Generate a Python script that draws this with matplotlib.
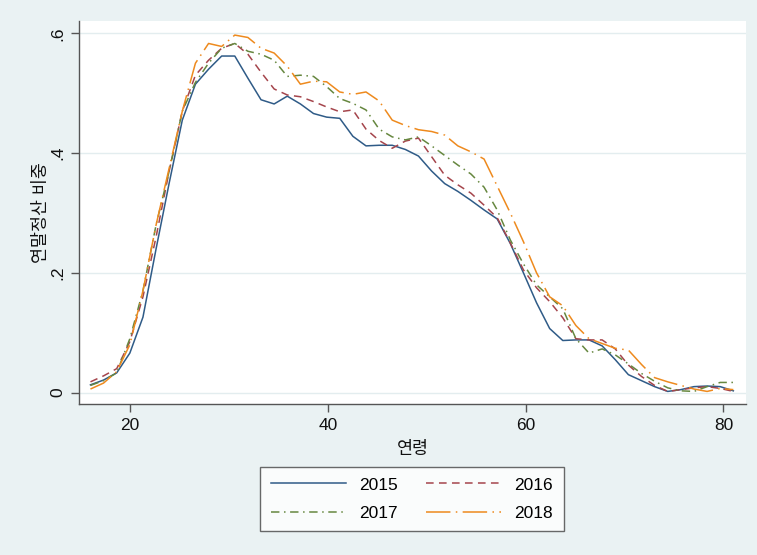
import matplotlib
matplotlib.use("Agg")
import matplotlib.pyplot as plt
import numpy as np

plt.rcParams['font.family'] = ['Liberation Sans', 'Noto Sans CJK KR', 'DejaVu Sans']

# age grid: 50 points from 16 to 81
ages = np.linspace(16, 81, 50)

y2015 = [0.013, 0.021, 0.033, 0.066, 0.126, 0.24, 0.35, 0.455, 0.515, 0.54,
         0.562, 0.562, 0.525, 0.489, 0.482, 0.495, 0.482, 0.466, 0.46, 0.458,
         0.428, 0.412, 0.413, 0.413, 0.406, 0.395, 0.37, 0.349, 0.336, 0.321,
         0.305, 0.29, 0.249, 0.2, 0.15, 0.107, 0.087, 0.088, 0.088, 0.078,
         0.055, 0.03, 0.02, 0.01, 0.002, 0.005, 0.01, 0.011, 0.01, 0.003]
y2016 = [0.018, 0.028, 0.04, 0.085, 0.16, 0.26, 0.37, 0.47, 0.53, 0.555,
         0.575, 0.583, 0.565, 0.535, 0.507, 0.497, 0.494, 0.486, 0.477, 0.469,
         0.472, 0.44, 0.421, 0.408, 0.42, 0.425, 0.394, 0.363, 0.347, 0.333,
         0.313, 0.292, 0.25, 0.205, 0.175, 0.152, 0.125, 0.09, 0.088, 0.088,
         0.073, 0.046, 0.027, 0.012, 0.002, 0.005, 0.008, 0.01, 0.007, 0.002]
y2017 = [0.012, 0.02, 0.033, 0.09, 0.17, 0.28, 0.37, 0.47, 0.518, 0.55,
         0.575, 0.583, 0.57, 0.565, 0.555, 0.528, 0.53, 0.528, 0.511, 0.491,
         0.483, 0.472, 0.44, 0.427, 0.422, 0.427, 0.412, 0.396, 0.38, 0.365,
         0.343, 0.305, 0.255, 0.215, 0.18, 0.16, 0.14, 0.09, 0.066, 0.073,
         0.063, 0.048, 0.032, 0.019, 0.008, 0.003, 0.002, 0.01, 0.017, 0.017]
y2018 = [0.006, 0.016, 0.035, 0.08, 0.17, 0.28, 0.375, 0.47, 0.55, 0.583,
         0.578, 0.597, 0.593, 0.575, 0.567, 0.545, 0.515, 0.52, 0.519, 0.502,
         0.498, 0.502, 0.487, 0.455, 0.446, 0.439, 0.436, 0.43, 0.412, 0.402,
         0.39, 0.345, 0.3, 0.252, 0.2, 0.16, 0.145, 0.112, 0.09, 0.082,
         0.074, 0.071, 0.047, 0.025, 0.018, 0.012, 0.006, 0.002, 0.007, 0.005]

bg = '#eaf2f3'
fig = plt.figure(figsize=(7.57, 5.55), dpi=100, facecolor=bg)
ax = fig.add_axes([79/757, 1-404/555, (746-79)/757, (404-21)/555])
ax.set_facecolor('white')

lw = 1.1
l15, = ax.plot(ages, y2015, color='#2f5b87', lw=lw, label='2015')
l16, = ax.plot(ages, y2016, color='#a5454c', lw=lw, dashes=(5, 3.5), label='2016')
l17, = ax.plot(ages, y2017, color='#66873f', lw=lw, dashes=(5.5, 3, 1, 3), label='2017')
l18, = ax.plot(ages, y2018, color='#ee8a1e', lw=lw, dashes=(16, 3.5, 1, 3.5), label='2018')

ax.set_xlim(14.84, 82.28)
ax.set_ylim(-0.019, 0.6205)
ax.set_xticks([20, 40, 60, 80])
ax.set_yticks([0, 0.2, 0.4, 0.6])
ax.set_yticklabels(['0', '.2', '.4', '.6'], rotation=90, va='center')
ax.grid(axis='y', color='#e3edef', lw=1.0)
ax.set_axisbelow(True)

for s in ['top', 'right']:
    ax.spines[s].set_visible(False)
for s in ['left', 'bottom']:
    ax.spines[s].set_color('#555555')
    ax.spines[s].set_linewidth(1.0)
ax.tick_params(axis='both', length=6, width=1.0, color='#555555',
               labelsize=12.5, labelcolor='#111111', pad=4)

ax.set_xlabel('연령', fontsize=12.5, labelpad=6, color='#111111')
ax.set_ylabel('연말정산 비중', fontsize=12.5, labelpad=1, color='#111111')

# rows: 2015 2016 / 2017 2018 (matplotlib fills by column)
leg = ax.legend([l15, l17, l16, l18], ['2015', '2017', '2016', '2018'],
                loc='upper center', bbox_to_anchor=(412/757, 1-467/555),
                bbox_transform=fig.transFigure, ncol=2, fontsize=12.5,
                frameon=True, fancybox=False, edgecolor='#444444',
                handlelength=4.3, handletextpad=0.8, columnspacing=1.6,
                borderpad=0.6, labelspacing=0.75, borderaxespad=0)
leg.get_frame().set_linewidth(1.0)

fig.savefig('out.png', dpi=100, facecolor=bg)
